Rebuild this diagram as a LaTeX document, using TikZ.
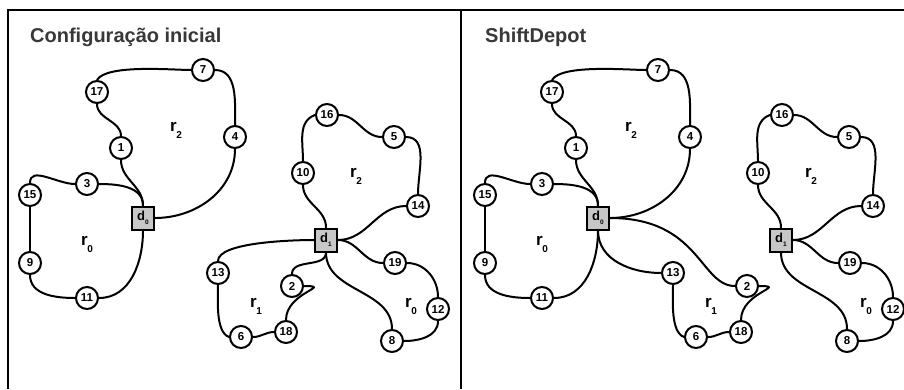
\documentclass[tikz,border=0pt]{standalone}
\usepackage{fontspec}
\setmainfont{Liberation Sans}
\usepackage{tikz}
\tikzset{
  cliente/.style={circle, draw, line width=2pt, fill=white, minimum size=22pt, inner sep=0pt,
    font=\fontsize{11.5}{11.5}\selectfont\bfseries},
  deposito/.style={rectangle, draw, line width=2pt, fill=black!22, minimum width=22pt,
    minimum height=23pt, inner sep=0pt, font=\fontsize{13}{13}\selectfont\bfseries},
  rotaln/.style={line width=2pt, line cap=round},
  rotulo/.style={anchor=base west, inner sep=0pt, font=\fontsize{17}{17}\selectfont\bfseries},
  titulo/.style={anchor=base west, inner sep=0pt, text=black!78,
    font=\fontsize{20}{20}\selectfont\bfseries},
  moldura/.style={line width=2pt},
}
% route name r_k and depot name d_k
\newcommand{\subr}[1]{r\kern-0.5pt\raisebox{-7pt}{\fontsize{10}{10}\selectfont #1}}
\newcommand{\subd}[1]{d\raisebox{-3.5pt}{\fontsize{6.5}{6.5}\selectfont #1}}

% customers, depots and route names of one panel (#1 = prefix)
\newcommand{\clientes}[1]{%
  \node[cliente] (#1n7) at (203,-70) {7};
  \node[cliente] (#1n17) at (97,-92) {17};
  \node[cliente] (#1n1) at (121,-148) {1};
  \node[cliente] (#1n4) at (235,-137) {4};
  \node[cliente] (#1n3) at (87,-184) {3};
  \node[cliente] (#1n15) at (30,-195) {15};
  \node[cliente] (#1n9) at (30,-263) {9};
  \node[cliente] (#1n11) at (87,-298) {11};
  \node[cliente] (#1n16) at (327,-115) {16};
  \node[cliente] (#1n5) at (394,-137) {5};
  \node[cliente] (#1n10) at (303,-173) {10};
  \node[cliente] (#1n14) at (418,-206) {14};
  \node[cliente] (#1n19) at (395,-263) {19};
  \node[cliente] (#1n12) at (438,-309) {12};
  \node[cliente] (#1n8) at (392,-341) {8};
  \node[cliente] (#1n13) at (218,-273) {13};
  \node[cliente] (#1n2) at (292,-286) {2};
  \node[cliente] (#1n18) at (286,-332) {18};
  \node[cliente] (#1n6) at (241,-337) {6};
  \node[deposito] (#1d0) at (143,-218) {\subd{0}};
  \node[deposito] (#1d1) at (326,-240) {\subd{1}};
  \node[rotulo] (#1r2a) at (170,-131) {\subr{2}};
  \node[rotulo] (#1r2b) at (350,-177) {\subr{2}};
  \node[rotulo] (#1r0a) at (81,-245) {\subr{0}};
  \node[rotulo] (#1r1) at (250,-307) {\subr{1}};
  \node[rotulo] (#1r0b) at (405,-307) {\subr{0}};
}

% routes that both panels share
\newcommand{\rotasfixas}[1]{%
  % depot d0: r2 and r0
  \draw[rotaln] (#1n1.south) to[out=-90,in=90] (#1d0.north);
  \draw[rotaln] (#1n17.south) to[out=-90,in=90] (#1n1.north);
  \draw[rotaln] (#1n7.west) to[out=180,in=60,looseness=0.5] (#1n17.north);
  \draw[rotaln] (#1n7.east) to[out=0,in=90] (#1n4.north);
  \draw[rotaln] (#1d0.east) to[out=0,in=-90] (#1n4.south);
  \draw[rotaln] (#1n3.east) to[out=0,in=90] (#1d0.north);
  \draw[rotaln] (#1n3.west) to[out=180,in=90] (#1n15.north);
  \draw[rotaln] (#1n15) -- (#1n9);
  \draw[rotaln] (#1n9.south) to[out=-90,in=180] (#1n11.west);
  \draw[rotaln] (#1n11.east) to[out=0,in=-90] (#1d0.south);
  % depot d1: r2 and r0
  \draw[rotaln] (#1d1.north) to[out=90,in=-90] (#1n10.south);
  \draw[rotaln] (#1n10.north) to[out=90,in=200] (#1n16.west);
  \draw[rotaln] (#1n16.east) to[out=0,in=180] (#1n5.west);
  \draw[rotaln] (#1n5.east) to[out=0,in=90] (#1n14.north);
  \draw[rotaln] (#1n14.west) to[out=180,in=0] (#1d1.east);
  \draw[rotaln] (#1d1.east) to[out=0,in=180] (#1n19.west);
  \draw[rotaln] (#1n19.east) to[out=0,in=90] (#1n12.north);
  \draw[rotaln] (#1n12.south) to[out=-90,in=0] (#1n8.east);
  \draw[rotaln] (#1n8.north) to[out=90,in=-90] (#1d1.south);
  % r1 without its depot ends
  \draw[rotaln] (#1n13.south) to[out=-90,in=160,looseness=0.7] (#1n6.west);
  \draw[rotaln] (#1n6.east) to[out=0,in=180] (#1n18.west);
  \draw[rotaln] (#1n2.east) .. controls +(30,0) and +(0,28) .. (#1n18.north);
}

\begin{document}
\begin{tikzpicture}[x=1pt, y=1pt]
  \useasboundingbox (0,-389) rectangle (904,0);
  % frame of the two panels
  \draw[moldura] (8,-389) -- (8,-10) -- (904,-10);
  \draw[line width=1.3pt] (461,-10) -- (461,-389);

  % left panel: r1 served by d1
  \node[titulo] (tituloA) at (30,-42) {Configuração inicial};
  \clientes{a}
  \rotasfixas{a}
  \draw[rotaln] (ad1.west) to[out=180,in=90,looseness=0.5] (an13.north);
  \draw[rotaln] (ad1.south) to[out=-90,in=90] (an2.north);

  % right panel: r1 moved to d0
  \begin{scope}[xshift=455pt]
    \node[titulo] (tituloB) at (30,-42) {ShiftDepot};
    \clientes{b}
    \rotasfixas{b}
    \draw[rotaln] (bd0.south) to[out=-90,in=180] (bn13.west);
    \draw[rotaln] (bd0.east) .. controls +(90,0) and +(-35,0) .. (bn2.west);
  \end{scope}
\end{tikzpicture}
\end{document}
